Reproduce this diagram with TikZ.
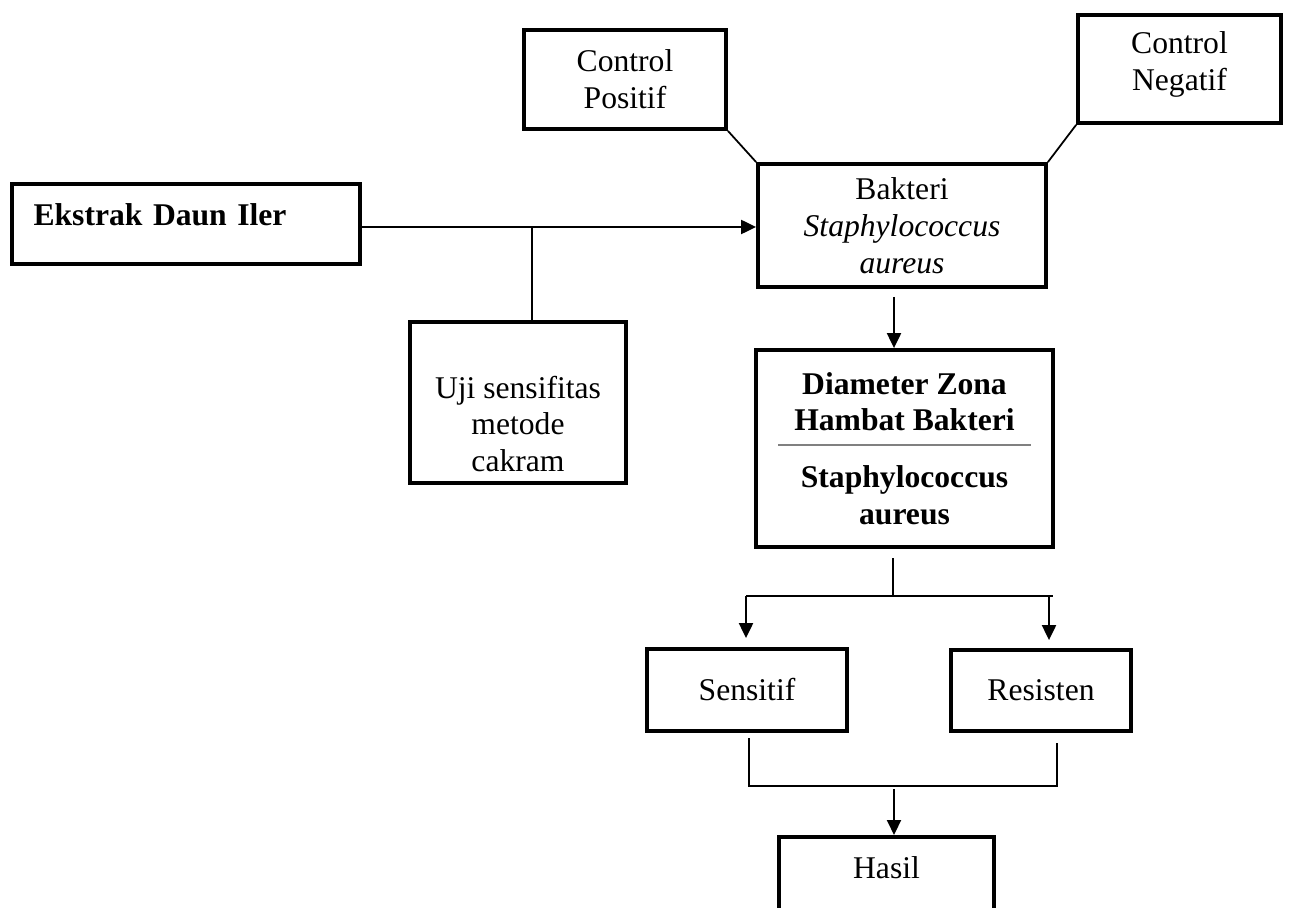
\documentclass[tikz,border=0pt]{standalone}
\usepackage{fontspec}
\setmainfont{Liberation Serif}
\usetikzlibrary{arrows.meta}

\begin{document}
\begin{tikzpicture}[x=0.02cm, y=-0.02cm,
    box/.style={draw, line width=2.2pt, align=center, inner sep=0pt,
      font=\fontsize{18}{21}\selectfont},
    link/.style={line width=1pt},
    arrow/.style={line width=1.2pt, -{Triangle[length=0.3cm, width=0.28cm]}}]
  \clip (0,0) rectangle (1290,908);
  % boxes
  \node[box, minimum width=4.04cm, minimum height=1.98cm] (pos) at (625,79.5) {Control\\Positif};
  \node[box, minimum width=4.06cm, minimum height=2.16cm, text depth=0.32cm] (neg) at (1179.5,69) {Control\\Negatif};
  \node[box, minimum width=5.76cm, minimum height=2.46cm] (bakteri) at (902,225.5) {Bakteri\\\textit{Staphylococcus}\\\textit{aureus}};
  \node[box, minimum width=6.96cm, minimum height=1.6cm, text width=6.1cm, align=left,
    text depth=0.36cm, font=\fontsize{18}{21}\selectfont\bfseries] (ekstrak) at (186,224) {Ekstrak Daun Iler};
  \node[box, minimum width=4.32cm, minimum height=3.22cm, text height=2.78cm] (uji) at (518,402.5) {Uji sensifitas\\metode\\cakram};
  \node[box, minimum width=5.94cm, minimum height=3.94cm, font=\fontsize{18}{21}\selectfont\bfseries] (diameter) at (904.5,448.5)
    {Diameter Zona\\Hambat Bakteri\\[-12.5pt]\textcolor{gray}{\rule{5.06cm}{1.2pt}}\\[2.8pt]Staphylococcus\\aureus};
  \node[box, minimum width=4cm, minimum height=1.64cm] (sensitif) at (747,690) {Sensitif};
  \node[box, minimum width=3.6cm, minimum height=1.62cm] (resisten) at (1041,690.5) {Resisten};
  \node[box, minimum width=4.3cm, minimum height=2.4cm, anchor=north, text depth=1.16cm] (hasil) at (886.5,835) {Hasil};
  % connector points
  \coordinate (join) at (532,227);
  \coordinate (down) at (894,297);
  \coordinate (stem) at (893,558);
  \coordinate (split) at (893,596);
  \coordinate (splitL) at (746,596);
  \coordinate (splitR) at (1053,596);
  \coordinate (toR) at (1049,596);
  \coordinate (mergeL) at (749,738);
  \coordinate (mergeR) at (1057,743);
  \coordinate (merge) at (894,786);
  % connectors
  \draw[link] (pos.south east) -- (bakteri.north west);
  \draw[link] (neg.south west) -- (bakteri.north east);
  \draw[arrow] (ekstrak.east |- join) -- (bakteri.west |- join);
  \draw[link] (join) -- (join |- uji.north);
  \draw[arrow] (down) -- (down |- diameter.north);
  \draw[link] (stem) -- (split);
  \draw[link] (splitL) -- (splitR);
  \draw[arrow, shorten >=0.18cm] (splitL) -- (splitL |- sensitif.north);
  \draw[arrow, shorten >=0.16cm] (toR) -- (toR |- resisten.north);
  \draw[link] (mergeL) -- (mergeL |- merge) -| (mergeR);
  \draw[arrow] ([yshift=-0.06cm]merge) -- (merge |- hasil.north);
\end{tikzpicture}
\end{document}
